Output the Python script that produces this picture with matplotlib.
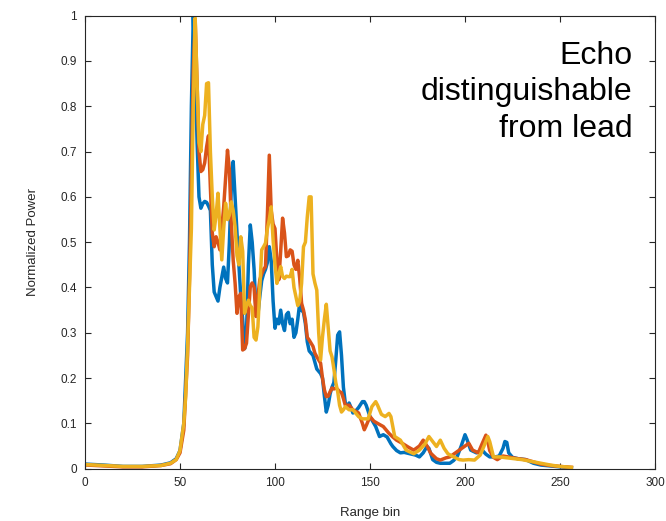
import matplotlib.pyplot as plt
import numpy as np

plt.rcParams['font.family'] = ['Liberation Sans', 'DejaVu Sans']

# range bin / normalized power
blue_bins = [1, 10, 20, 30, 40, 45, 48, 50, 52, 54, 55, 56, 57, 58, 59, 60, 61, 62, 63, 64, 65, 66, 67, 68, 69, 70,
             71, 73, 74, 75, 76, 77, 78, 79, 80, 81, 82, 83, 84, 85, 86, 87, 88, 89, 90, 91, 92, 93, 94, 95, 96,
             97, 98, 99, 100, 101, 102, 103, 104, 105, 106, 107, 108, 109, 110, 111, 112, 113, 114, 115, 116,
             117, 118, 119, 120, 121, 122, 123, 124, 125, 126, 127, 128, 129, 130, 131, 132, 133, 134, 135, 136,
             137, 138, 139, 140, 141, 142, 144, 146, 147, 148, 150, 152, 153, 155, 157, 159, 161, 162, 164, 166,
             168, 171, 174, 176, 178, 180, 181, 183, 185, 187, 190, 192, 194, 196, 198, 200, 201, 203, 206, 209,
             211, 213, 216, 218, 220, 221, 222, 223, 225, 228, 232, 236, 240, 245, 250, 256]
blue_power = [0.010, 0.008, 0.005, 0.005, 0.008, 0.013, 0.022, 0.04, 0.10, 0.30, 0.50, 0.80, 1.0, 0.88, 0.72, 0.60,
              0.575, 0.585, 0.59, 0.588, 0.58, 0.57, 0.45, 0.39, 0.38, 0.37, 0.40, 0.445, 0.42, 0.41, 0.50, 0.62,
              0.678, 0.60, 0.52, 0.45, 0.38, 0.33, 0.265, 0.30, 0.45, 0.538, 0.50, 0.44, 0.35, 0.34, 0.38, 0.415,
              0.43, 0.44, 0.455, 0.49, 0.46, 0.37, 0.31, 0.33, 0.32, 0.35, 0.32, 0.305, 0.34, 0.345, 0.32, 0.33,
              0.29, 0.30, 0.33, 0.365, 0.35, 0.345, 0.32, 0.28, 0.26, 0.255, 0.25, 0.235, 0.22, 0.215, 0.21, 0.20,
              0.16, 0.125, 0.14, 0.165, 0.18, 0.19, 0.24, 0.295, 0.302, 0.25, 0.18, 0.145, 0.137, 0.145, 0.135,
              0.123, 0.125, 0.135, 0.148, 0.148, 0.14, 0.115, 0.10, 0.093, 0.071, 0.075, 0.07, 0.055, 0.049, 0.04,
              0.035, 0.036, 0.033, 0.03, 0.026, 0.035, 0.049, 0.045, 0.02, 0.014, 0.012, 0.012, 0.012, 0.018,
              0.028, 0.05, 0.075, 0.065, 0.041, 0.035, 0.041, 0.032, 0.026, 0.026, 0.028, 0.045, 0.06, 0.058,
              0.035, 0.025, 0.022, 0.02, 0.012, 0.008, 0.006, 0.004, 0.002]

orange_bins = [1, 10, 20, 30, 40, 45, 48, 50, 52, 54, 55, 56, 57, 58, 59, 60, 61, 62, 63, 64, 65, 66, 67, 68, 69,
               70, 71, 72, 73, 74, 75, 76, 77, 78, 79, 80, 81, 82, 83, 84, 85, 86, 87, 88, 89, 90, 91, 92, 93, 94,
               95, 96, 97, 98, 99, 100, 101, 102, 103, 104, 105, 106, 107, 108, 109, 110, 111, 112, 113, 114, 115,
               116, 117, 118, 119, 120, 121, 122, 123, 124, 125, 126, 127, 128, 129, 130, 131, 132, 133, 134, 135,
               136, 137, 139, 141, 144, 146, 147, 148, 150, 152, 154, 157, 160, 162, 164, 167, 170, 173, 176, 178,
               180, 182, 185, 187, 190, 192, 195, 197, 200, 202, 204, 207, 209, 211, 212, 213, 215, 217, 220, 224,
               228, 232, 236, 240, 245, 250, 256]
orange_power = [0.008, 0.006, 0.004, 0.004, 0.007, 0.011, 0.02, 0.035, 0.085, 0.25, 0.42, 0.65, 0.88, 0.99, 0.85,
                0.70, 0.656, 0.66, 0.675, 0.71, 0.735, 0.62, 0.52, 0.49, 0.512, 0.50, 0.483, 0.53, 0.578, 0.64,
                0.703, 0.66, 0.542, 0.46, 0.41, 0.343, 0.38, 0.387, 0.262, 0.265, 0.277, 0.34, 0.402, 0.41, 0.40,
                0.336, 0.38, 0.417, 0.43, 0.44, 0.446, 0.56, 0.692, 0.57, 0.54, 0.53, 0.46, 0.417, 0.48, 0.553,
                0.52, 0.468, 0.47, 0.483, 0.48, 0.45, 0.44, 0.46, 0.42, 0.365, 0.35, 0.328, 0.29, 0.284, 0.277,
                0.27, 0.255, 0.247, 0.24, 0.233, 0.20, 0.174, 0.159, 0.16, 0.17, 0.178, 0.176, 0.178, 0.175, 0.17,
                0.168, 0.155, 0.14, 0.14, 0.13, 0.123, 0.10, 0.086, 0.095, 0.115, 0.105, 0.10, 0.093, 0.078, 0.07,
                0.063, 0.056, 0.048, 0.041, 0.05, 0.063, 0.05, 0.034, 0.022, 0.019, 0.024, 0.026, 0.035, 0.041,
                0.05, 0.056, 0.041, 0.035, 0.055, 0.074, 0.06, 0.04, 0.025, 0.02, 0.028, 0.025, 0.022, 0.02, 0.015,
                0.01, 0.007, 0.005, 0.003]

yellow_bins = [1, 10, 20, 30, 40, 45, 48, 50, 52, 53, 54, 55, 56, 57, 58, 59, 60, 61, 62, 63, 64, 65, 66, 67, 68,
               69, 70, 71, 72, 73, 74, 75, 76, 77, 78, 79, 80, 81, 82, 83, 84, 85, 86, 87, 88, 89, 90, 91, 92, 93,
               94, 95, 96, 97, 98, 99, 100, 101, 102, 103, 104, 105, 106, 107, 108, 109, 110, 111, 112, 113, 114,
               115, 116, 117, 118, 119, 120, 121, 122, 123, 124, 125, 126, 127, 128, 129, 130, 131, 132, 133, 134,
               135, 136, 137, 139, 141, 144, 146, 149, 151, 153, 154, 156, 158, 160, 161, 163, 166, 169, 173, 176,
               179, 181, 183, 185, 187, 189, 191, 194, 197, 199, 202, 205, 208, 210, 212, 213, 215, 218, 222, 226,
               230, 235, 240, 245, 250, 256]
yellow_power = [0.009, 0.007, 0.005, 0.005, 0.007, 0.012, 0.02, 0.04, 0.10, 0.16, 0.27, 0.40, 0.53, 0.80, 0.995,
                0.85, 0.72, 0.70, 0.76, 0.78, 0.85, 0.852, 0.70, 0.60, 0.527, 0.56, 0.608, 0.53, 0.461, 0.53,
                0.586, 0.55, 0.56, 0.589, 0.57, 0.534, 0.47, 0.45, 0.512, 0.48, 0.343, 0.36, 0.372, 0.36, 0.355,
                0.29, 0.284, 0.313, 0.40, 0.483, 0.49, 0.498, 0.53, 0.55, 0.578, 0.505, 0.45, 0.409, 0.43, 0.446,
                0.424, 0.42, 0.425, 0.424, 0.424, 0.44, 0.40, 0.38, 0.36, 0.37, 0.409, 0.49, 0.50, 0.556, 0.60,
                0.60, 0.43, 0.41, 0.394, 0.30, 0.24, 0.291, 0.33, 0.363, 0.31, 0.26, 0.247, 0.22, 0.19, 0.17, 0.14,
                0.125, 0.13, 0.137, 0.13, 0.13, 0.115, 0.11, 0.11, 0.137, 0.148, 0.14, 0.12, 0.115, 0.122, 0.115,
                0.071, 0.063, 0.041, 0.033, 0.041, 0.055, 0.071, 0.06, 0.049, 0.063, 0.045, 0.033, 0.026, 0.02,
                0.019, 0.02, 0.019, 0.03, 0.05, 0.071, 0.06, 0.026, 0.026, 0.024, 0.022, 0.02, 0.016, 0.012, 0.008,
                0.005, 0.003]

dark = '#262626'

fig = plt.figure(figsize=(6.66, 5.21), dpi=100)
ax = fig.add_axes([0.1276, 0.1004, 0.8559, 0.8695])

ax.plot(blue_bins, blue_power, color='#0072BD', lw=2.5)
ax.plot(orange_bins, orange_power, color='#D95319', lw=2.5)
ax.plot(yellow_bins, yellow_power, color='#EDB120', lw=2.5)

ax.set_xlim(0, 300)
ax.set_ylim(0, 1)
ax.set_xticks(np.arange(0, 301, 50))
ax.set_yticks(np.arange(0, 1.01, 0.1))
ax.set_yticklabels(['0', '0.1', '0.2', '0.3', '0.4', '0.5', '0.6', '0.7', '0.8', '0.9', '1'])

for s in ax.spines.values():
    s.set_color(dark)
    s.set_linewidth(0.8)
ax.tick_params(direction='in', top=True, right=True, length=4, width=0.8,
               colors=dark, labelsize=8.5, pad=6)

ax.set_xlabel('Range bin', fontsize=9.5, color=dark, labelpad=13)
ax.set_ylabel('Normalized Power', fontsize=9.5, color=dark, labelpad=15)

ax.text(0.96, 0.945, 'Echo\ndistinguishable\nfrom lead', transform=ax.transAxes,
        ha='right', va='top', fontsize=23, color='black', linespacing=1.3)

fig.savefig('out.png', dpi=100)
